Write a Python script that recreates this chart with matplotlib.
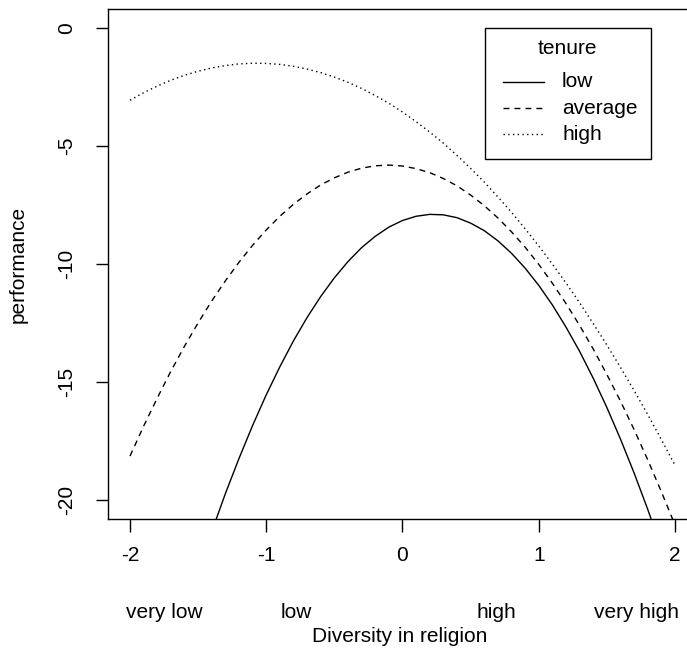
import matplotlib
matplotlib.use("Agg")
import matplotlib.pyplot as plt
from matplotlib.lines import Line2D
from matplotlib.patches import Rectangle
from matplotlib.transforms import blended_transform_factory, Affine2D

# ---- data ----
diversity = [-2.0, -1.9, -1.8, -1.7, -1.6, -1.5, -1.4, -1.3, -1.2, -1.1,
             -1.0, -0.9, -0.8, -0.7, -0.6, -0.5, -0.4, -0.3, -0.2, -0.1,
             0.0, 0.1, 0.2, 0.3, 0.4, 0.5, 0.6, 0.7, 0.8, 0.9,
             1.0, 1.1, 1.2, 1.3, 1.4, 1.5, 1.6, 1.7, 1.8, 1.9, 2.0]
perf_low = [-33.07, -30.86, -28.75, -26.75, -24.84, -23.04, -21.34, -19.73, -18.24, -16.84,
            -15.54, -14.35, -13.25, -12.26, -11.37, -10.58, -9.89, -9.30, -8.82, -8.43,
            -8.15, -7.97, -7.89, -7.91, -8.03, -8.26, -8.58, -9.01, -9.54, -10.17,
            -10.90, -11.73, -12.67, -13.70, -14.84, -16.08, -17.42, -18.86, -20.40, -22.04, -23.79]
perf_average = [-18.14, -16.87, -15.68, -14.54, -13.48, -12.49, -11.56, -10.71, -9.92, -9.20,
                -8.55, -7.97, -7.46, -7.02, -6.64, -6.34, -6.10, -5.93, -5.83, -5.80,
                -5.84, -5.95, -6.12, -6.37, -6.68, -7.07, -7.52, -8.04, -8.63, -9.28,
                -10.01, -10.81, -11.67, -12.60, -13.60, -14.68, -15.81, -17.02, -18.30, -19.65, -21.06]
perf_high = [-3.05, -2.73, -2.45, -2.20, -1.99, -1.82, -1.68, -1.58, -1.51, -1.48,
             -1.49, -1.53, -1.61, -1.73, -1.88, -2.07, -2.29, -2.55, -2.85, -3.18,
             -3.55, -3.96, -4.40, -4.87, -5.39, -5.94, -6.52, -7.15, -7.80, -8.50,
             -9.23, -10.00, -10.80, -11.64, -12.52, -13.43, -14.38, -15.36, -16.38, -17.44, -18.53]

series_labels = ["low", "average", "high"]
legend_title = "tenure"
x_ticks = [-2, -1, 0, 1, 2]
y_ticks = [0, -5, -10, -15, -20]
category_labels = ["very low", "low", "high", "very high"]
category_pos = [-1.75, -0.78, 0.69, 1.72]

# ---- style ----
FS = 15
plt.rcParams['font.family'] = ['Liberation Sans', 'DejaVu Sans']
W, H = 687, 650
fig = plt.figure(figsize=(W / 100, H / 100), dpi=100)

L, R, T, B = 108.2, 696.8, 9.3, 519.3
ax = fig.add_axes([L / W, (H - B) / H, (R - L) / W, (B - T) / H])
ax.set_xlim(-2.16, 2.16)
ax.set_ylim(-20.82, 0.806)

styles = [dict(linestyle='-'),
          dict(linestyle=(0, (4.3, 3.6))),
          dict(linestyle=(0, (1.0, 2.4)))]
for ys, st in zip([perf_low, perf_average, perf_high], styles):
    ax.plot(diversity, ys, color='black', linewidth=1.0, **st)

for s in ax.spines.values():
    s.set_linewidth(1.0)
    s.set_color('black')

ax.set_xticks(x_ticks)
ax.set_xticklabels([str(v) for v in x_ticks])
ax.set_yticks(y_ticks)
ax.set_yticklabels([str(v) for v in y_ticks], rotation=90, va='center')
ax.tick_params(axis='both', direction='out', length=9, width=1.0,
               labelsize=FS, colors='black')
ax.tick_params(axis='x', pad=10.5)
ax.tick_params(axis='y', pad=14)

# category labels under the numeric ticks
tr = blended_transform_factory(ax.transData, fig.transFigure)
for lab, pos in zip(category_labels, category_pos):
    ax.text(pos, (H - 612) / H, lab, transform=tr, ha='center', va='center',
            fontsize=FS)

ax.set_xlabel("Diversity in religion", fontsize=FS, va='center')
ax.xaxis.set_label_coords(0.496, (B - 636) / (B - T))
ax.set_ylabel("performance", fontsize=FS, va='center')
ax.yaxis.set_label_coords((18 - L) / (R - L), 0.5)

# legend box (R style), in figure pixel coordinates
pix = Affine2D().scale(1 / W, 1 / H) + fig.transFigure
flip = lambda y: H - y
lx0, ly0, lx1, ly1 = 484.5, 28.3, 650.5, 158.5
fig.add_artist(Rectangle((lx0, flip(ly1)), lx1 - lx0, ly1 - ly0, transform=pix,
                         fill=False, edgecolor='black', linewidth=1.0))
fig.text(567 / W, flip(49) / H, legend_title, ha='center', va='center', fontsize=FS)
for lab, st, yy in zip(series_labels, styles, [81.7, 108.0, 134.0]):
    fig.add_artist(Line2D([502.7, 544.0], [flip(yy), flip(yy)], transform=pix,
                          color='black', linewidth=1.0, **st))
    fig.text(562 / W, flip(yy) / H, lab, ha='left', va='center', fontsize=FS)

fig.savefig("out.png", dpi=100)
